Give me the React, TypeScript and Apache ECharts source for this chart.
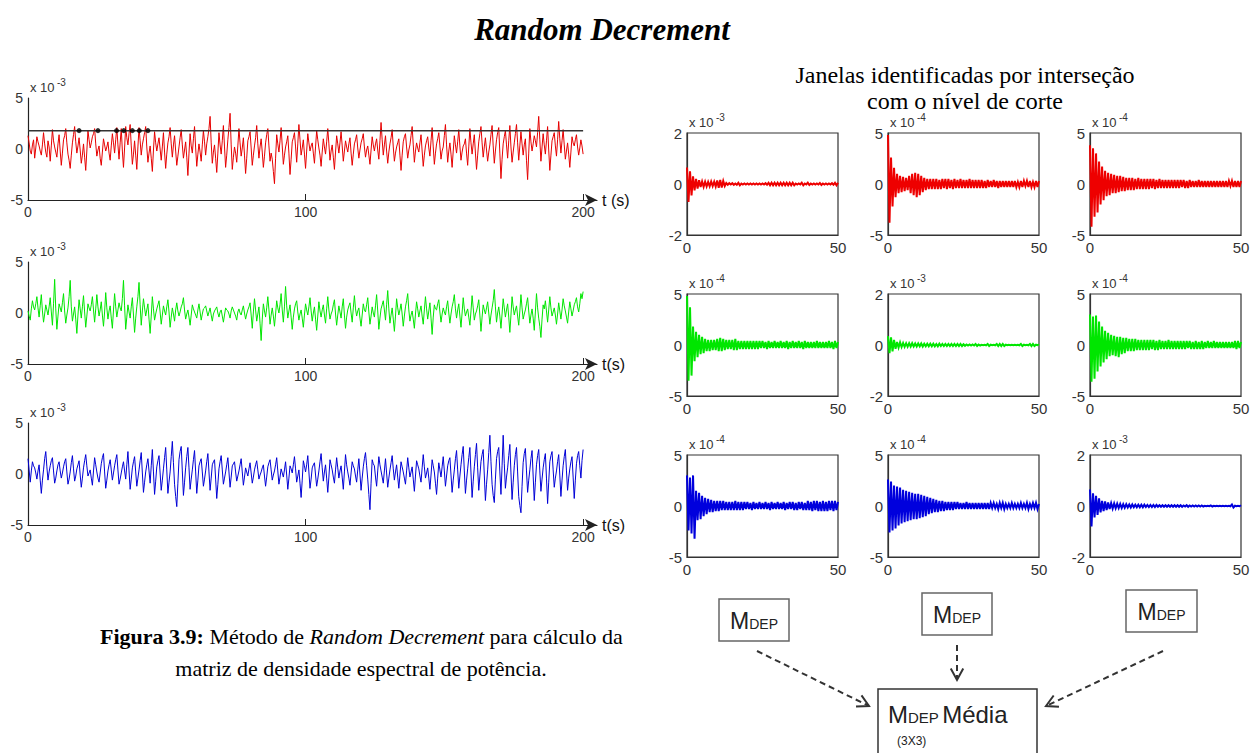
import React, { useEffect, useRef } from "react";
import * as echarts from "echarts";

// ---------- DATA (left signals in units of 10^-3, sampled every LEFT_STEP s) ----------
const LEFT_STEP = 0.4;
const RED = [
  1.3, 0.6, -0.2, -0.5, 0.4, 0.9, -0.9, 0.1, 1.2, 0.7, 0.3, -0.2, -0.6, 0.4, 1.6, 0.5, -0.3, -0.8, 0.8, 0.2,
  -1.2, 0.3, 1.9, 0.8, 0.2, -0.3, -0.8, 0.5, 1.4, -0.2, -1.6, -0.4, 0.9, 1.3, 2.0, 0.6, -0.5, -1.1, -1.9, -0.6,
  0.6, 1.4, 2.2, 0.7, -0.4, 0.3, 1.1, -0.1, -1.4, -0.6, 0.5, -0.8, -2.1, -0.2, 1.8, 0.9, 0.1, 0.6, 1.2, 1.5,
  2.0, 0.5, -0.7, -0.1, 0.3, -0.9, -1.6, -0.3, 1.0, 0.4, -0.2, 0.2, 0.7, -0.4, -1.1, 0.3, 1.5, 0.6, -0.4, 0.9,
  2.1, 0.4, -1.0, 0.6, 2.0, -0.2, -1.8, 0.1, 2.2, 1.1, 0.4, 1.5, 2.4, 0.3, -1.5, -0.5, 0.8, -0.6, -2.0, 0.2,
  2.1, 0.8, -0.6, 0.4, 1.0, 1.6, 2.2, 0.2, -1.3, -0.4, 0.3, -0.9, -2.2, -0.1, 1.7, 0.6, -0.2, 0.5, 1.1, 0.0,
  -1.1, 0.2, 1.6, -0.3, -1.9, -0.5, 0.6, 1.2, 2.1, 0.5, -0.8, 0.4, 1.3, -0.2, -1.6, -0.7, 0.2, 1.1, 1.9, 0.4,
  -0.9, -0.1, 0.7, -0.8, -2.6, -0.4, 1.5, 0.3, -0.4, 1.0, 2.2, 0.1, -1.7, -0.5, 0.5, -0.3, -1.2, 0.4, 1.8, 0.7,
  -0.6, 0.5, 1.2, 2.0, 3.2, 0.6, -1.4, -0.3, 0.4, -0.9, -2.3, -0.4, 1.6, 0.4, -0.5, 0.8, 2.3, 0.2, -1.8, -0.6,
  0.9, 2.1, 3.5, 0.4, -2.0, -0.8, 0.2, -0.4, -1.3, 0.3, 2.0, 0.6, -0.7, 0.1, 1.1, -0.6, -2.4, -0.9, 0.8, 1.2,
  1.7, 0.1, -1.6, -0.6, 0.3, 1.1, 2.3, 0.5, -0.9, 0.2, 1.0, -0.3, -1.8, -0.7, 0.6, 1.4, 2.0, 0.3, -1.2, -0.4,
  -1.0, -2.2, -3.4, -0.9, 1.4, 0.5, -0.3, 0.8, 2.1, 0.3, -1.5, -0.6, 0.2, 0.7, 1.3, -0.4, -2.5, -1.0, 0.7, 1.1,
  1.6, 0.2, -1.3, 0.5, 2.4, 0.9, -0.6, 0.1, 0.9, -0.5, -1.9, -0.2, 1.5, 0.6, -0.2, 0.3, 0.6, -0.4, -1.4, 0.2,
  1.8, 0.9, 0.1, -0.6, -1.7, -0.3, 1.0, 0.2, -0.5, 0.7, 2.0, 0.5, -1.1, -0.2, 0.4, -0.8, -2.0, -0.3, 1.3, 0.5,
  -0.4, 0.6, 1.7, 0.3, -1.2, -0.2, 0.8, 0.2, -0.3, 0.5, 1.1, -0.4, -1.6, -0.5, 0.5, 0.9, 1.4, 0.1, -0.9, -0.1,
  0.6, 1.0, 1.5, 0.2, -0.8, -0.1, 0.3, -0.6, -1.5, -0.1, 1.2, 0.4, -0.2, 0.5, 1.0, -0.1, -1.0, 0.8, 2.6, 0.9,
  -0.6, 0.4, 1.3, -0.2, -1.4, -0.3, 0.5, 1.1, 1.9, 0.2, -1.2, -0.4, 0.2, 0.6, 1.0, -0.6, -2.1, -0.6, 0.7, 1.2,
  1.5, 0.2, -0.9, -0.1, 0.4, 1.3, 2.2, 0.4, -1.3, -0.2, 0.6, 0.1, -0.3, 0.6, 1.4, -0.2, -1.7, -0.6, 0.3, 0.8,
  1.2, 0.1, -0.7, 0.8, 2.1, 0.2, -1.5, -0.4, 0.5, 1.0, 1.6, 0.3, -1.0, -0.2, 0.2, 1.3, 2.4, 0.4, -1.3, -0.2,
  0.6, -0.5, -1.8, -0.2, 1.3, 0.4, -0.4, 0.7, 1.9, 0.3, -1.1, -0.3, 0.3, 0.5, 1.0, -0.4, -1.6, 0.2, 2.0, 0.6,
  -0.5, 0.5, 1.4, -0.4, -2.0, -0.6, 0.7, 1.5, 2.2, 0.6, -0.8, 0.2, 1.1, -0.1, -1.2, -0.3, 0.4, 1.4, 2.3, 0.3,
  -1.4, -0.2, 0.9, 1.6, 2.1, -0.4, -2.9, -1.0, 0.5, 1.2, 1.8, 0.4, -0.9, 0.8, 2.3, 0.2, -1.3, -0.3, 0.6, 1.5,
  2.4, 0.6, -1.1, 0.3, 1.7, 0.5, -0.6, 0.4, 1.0, -1.1, -3.0, -0.4, 2.0, 0.7, -0.2, 0.5, 1.3, 0.8, 0.2, 1.6,
  3.2, 0.9, -1.2, 0.2, 1.5, 0.4, -0.5, 0.8, 2.2, -0.1, -2.1, -0.6, 0.8, 1.2, 1.6, 0.3, -0.7, 0.9, 2.7, 1.0,
  -0.4, 0.8, 1.9, 0.4, -1.0, -0.2, 0.6, -0.5, -1.8, -0.3, 1.2, 0.6, 0.3, 0.9, 1.4, 0.2, -0.6, 0.1, 0.9, 0.3,
  -0.5,
];
const GREEN = [
  0.2, -0.3, -0.7, 0.4, 1.2, 0.6, 0.3, 0.9, 1.6, 0.5, -0.4, 0.7, 1.8, 0.2, -0.9, -0.1, 0.8, 0.3, -0.2, 0.6,
  1.5, 0.1, -1.2, 0.9, 3.3, 0.4, -1.6, -0.3, 0.9, 0.5, 0.1, 1.0, 1.9, 0.2, -1.0, -0.2, 0.5, 1.6, 3.2, 0.6,
  -0.8, -0.1, 0.6, -0.6, -2.0, -0.2, 1.3, 0.4, -0.5, 0.6, 1.7, 0.1, -1.4, -0.3, 0.9, 0.5, 0.2, 0.8, 1.6, 0.3,
  -0.9, 0.4, 1.8, 0.6, -0.3, 0.3, 1.1, -0.2, -1.3, 0.1, 2.0, 0.5, -0.6, 0.2, 0.7, -0.5, -1.5, 0.3, 1.9, 0.6,
  -0.4, 0.3, 1.0, 0.5, 0.2, 1.4, 3.2, 0.7, -1.6, -0.4, 0.8, 0.1, -0.5, 0.6, 1.5, -0.2, -1.9, -0.5, 0.6, 1.6,
  3.0, 0.8, -1.2, 0.2, 1.4, 0.5, -0.3, 0.3, 0.9, -0.6, -2.0, -0.3, 1.6, 0.4, -0.7, -0.1, 0.4, 0.8, 1.2, 0.1,
  -1.1, -0.2, 0.7, 0.2, -0.2, 0.6, 1.3, 0.1, -1.4, -0.4, 0.5, -0.1, -0.8, 0.3, 1.0, 0.2, -0.3, 0.1, 0.6, 0.9,
  1.5, 0.3, -0.6, -0.1, 0.3, -0.4, -1.2, -0.2, 0.8, 0.4, 0.1, -0.2, -0.5, 0.3, 0.9, 0.1, -0.7, -0.1, 0.4, 0.5,
  0.7, 0.2, -0.3, 0.1, 0.5, -0.2, -0.8, -0.1, 0.2, 0.4, 0.6, 0.0, -0.4, 0.1, 0.3, -0.3, -0.9, -0.2, 0.5, 0.3,
  0.2, -0.1, -0.5, 0.2, 0.6, 0.3, 0.0, -0.3, -0.7, 0.1, 0.4, 0.0, -0.2, 0.3, 0.7, 0.0, -0.6, -0.1, 0.3, 0.6,
  1.0, -0.2, -1.5, 0.1, 1.4, 0.3, -0.8, -0.1, 0.6, -1.0, -2.7, -0.6, 0.9, 0.2, -0.4, 0.5, 1.6, 0.3, -1.1, -0.2,
  0.5, -0.3, -1.3, -0.1, 1.2, 0.5, 0.0, 0.8, 1.9, 0.3, -0.9, 0.6, 2.6, 0.7, -0.5, 0.2, 0.8, -0.4, -1.6, -0.4,
  0.4, 0.9, 1.2, 0.1, -0.7, -0.1, 0.3, -0.5, -1.4, -0.2, 0.9, 0.3, -0.2, 0.6, 1.5, 0.2, -0.8, 0.0, 0.6, -0.6,
  -1.7, -0.3, 1.1, 0.2, -0.4, 0.3, 0.8, -0.2, -1.0, 0.4, 1.6, 0.3, -0.6, -0.1, 0.2, 0.8, 1.3, -0.1, -1.2, -0.2,
  0.7, 0.1, -0.5, 0.6, 1.4, -0.2, -1.5, -0.4, 0.3, 0.7, 1.0, 0.0, -0.9, 0.5, 1.7, 0.4, -0.3, 0.2, 0.5, -0.5,
  -1.3, -0.2, 0.9, 0.3, 0.1, 0.8, 1.5, 0.1, -1.1, -0.3, 0.6, 0.0, -0.4, 0.7, 1.8, 0.2, -1.6, -0.5, 0.4, 0.8,
  1.2, 0.3, -0.7, 0.8, 2.2, 0.4, -1.0, -0.2, 0.5, -0.6, -1.8, -0.3, 1.4, 0.5, -0.2, 0.3, 0.9, -0.1, -1.3, -0.3,
  0.6, 1.2, 1.9, 0.3, -0.8, -0.2, 0.2, -0.6, -1.5, -0.1, 1.1, 0.4, -0.4, 0.2, 0.7, -0.3, -1.1, 0.3, 1.6, 0.4,
  -0.6, 0.2, 1.0, -0.5, -2.1, -0.4, 0.8, 0.4, 0.3, 0.9, 1.3, 0.1, -0.9, -0.1, 0.5, 0.1, -0.2, 0.6, 1.2, 0.0,
  -1.0, -0.1, 0.6, 1.1, 1.8, 0.4, -0.5, 0.3, 0.9, -0.3, -1.4, 0.0, 1.5, 0.4, -0.3, 0.1, 0.4, -0.4, -1.2, 0.2,
  1.7, 0.5, -0.7, -0.1, 0.2, 0.7, 1.3, -0.2, -1.8, -0.4, 0.8, 0.3, -0.1, 0.5, 1.1, 0.0, -1.1, -0.2, 0.5, 1.2,
  2.3, 0.6, -0.9, 0.0, 0.6, -0.3, -1.5, -0.1, 1.4, 0.5, -0.4, 0.3, 0.9, -0.4, -1.9, -0.2, 1.6, 0.6, -0.2, 0.3,
  0.7, -0.3, -1.2, 0.2, 1.8, 0.5, -0.6, -0.1, 0.3, 0.9, 1.5, 0.2, -1.0, -0.2, 0.4, -0.5, -1.7, 0.1, 1.9, 0.5,
  -0.5, -1.3, -2.4, -0.6, 0.8, 0.4, 1.2, 0.2, -0.9, 0.3, 1.6, 0.5, -0.3, 0.1, 0.5, -0.2, -1.1, -0.1, 1.0, 0.2,
  -0.6, 0.3, 1.4, 0.7, 0.2, -0.4, -1.0, 0.1, 1.1, 0.4, -0.3, 0.2, 0.8, 1.1, 1.5, 0.6, 0.1, 0.9, 1.9, 1.4,
  2.1,
];
const BLUE = [
  1.5, 0.4, -0.8, 0.3, 1.2, 0.8, 0.6, 0.1, -0.5, 0.3, 0.9, -0.6, -1.9, -0.6, 0.4, 1.5, 2.2, 0.7, -0.6, 0.2,
  0.8, 1.3, 1.6, 0.3, -0.9, -0.4, 0.3, 0.9, 1.2, 0.3, -0.4, 0.1, 0.7, 1.2, 1.5, 0.2, -1.0, -0.5, 0.2, 1.1,
  1.8, 0.5, -0.7, -0.2, 0.5, 0.9, 1.3, -0.1, -1.3, -0.4, 0.6, 1.3, 1.9, 0.8, -0.2, 0.1, 0.4, -0.4, -1.1, 0.3,
  1.6, 0.9, 0.2, -0.4, -0.8, 0.1, 1.0, 1.6, 2.0, 0.2, -1.4, -0.6, 0.3, 0.9, 1.4, 0.4, -0.6, 0.1, 0.8, 1.4,
  1.9, 0.4, -1.0, -0.5, 0.1, 0.7, 1.2, 0.3, -0.5, 0.9, 2.2, 0.3, -1.5, -0.5, 0.6, 1.2, 1.7, 0.2, -1.2, -0.4,
  0.4, 1.3, 2.1, 0.1, -1.8, -0.8, 0.2, 0.9, 1.5, 0.3, -0.9, 0.8, 2.4, 0.2, -2.0, -0.7, 0.7, 1.3, 1.8, 0.1,
  -1.6, -0.6, 0.5, 1.6, 2.6, 0.4, -1.9, -0.8, 0.2, 1.7, 3.2, 1.1, -1.0, -2.2, -3.2, -0.9, 1.4, 2.2, 2.7, 0.3,
  -2.1, -0.8, 0.6, 1.7, 2.6, 0.6, -1.5, -0.5, 0.4, 1.4, 2.3, 0.2, -1.9, -0.6, 0.8, 1.2, 1.5, 0.2, -1.2, -0.5,
  0.3, 1.2, 2.0, 0.2, -1.6, -0.4, 0.9, 1.2, 1.4, -0.5, -2.4, -1.0, 0.5, 1.2, 1.8, 0.4, -1.0, -0.4, 0.2, 0.9,
  1.6, 0.2, -1.3, -0.3, 0.8, 1.0, 1.2, 0.2, -0.7, -0.2, 0.3, 0.9, 1.5, 0.2, -1.1, -0.3, 0.6, 0.2, -0.2, 0.5,
  1.1, 0.1, -0.9, -0.3, 0.4, 0.9, 1.3, 0.4, -0.5, -0.1, 0.2, 0.6, 0.9, -0.2, -1.2, -0.3, 0.7, 1.1, 1.4, 0.4,
  -0.6, -0.1, 0.3, 0.9, 1.6, 0.3, -1.0, -0.3, 0.5, 0.1, -0.3, 0.4, 1.2, -0.1, -1.5, -0.4, 0.8, 0.5, 0.1, 0.9,
  1.7, 0.5, -0.8, -0.2, 0.4, -0.9, -2.3, -0.6, 1.3, 0.8, 0.2, 0.9, 1.8, 0.2, -1.4, -0.5, 0.6, 0.9, 1.1, -0.1,
  -1.2, -0.5, 0.3, 1.2, 2.0, 0.6, -0.7, 0.2, 0.9, -0.4, -1.8, -0.3, 1.4, 0.9, 0.4, -0.3, -0.9, 0.4, 1.6, 0.6,
  -0.4, 0.3, 0.8, -0.3, -1.5, 0.2, 1.9, 0.9, 0.2, -0.4, -1.1, 0.1, 1.2, 0.8, 0.5, -0.2, -0.8, 0.4, 1.5, 0.0,
  -1.6, -0.4, 0.7, 1.5, 2.1, 0.8, -0.5, -2.0, -3.5, -0.9, 1.4, 1.0, 0.8, -0.3, -1.2, 0.3, 1.7, 0.9, 0.3, -0.3,
  -0.9, 0.3, 1.5, 0.1, -1.3, -0.4, 0.4, 1.1, 1.8, 0.5, -0.6, 0.2, 0.9, -0.3, -1.4, -0.1, 1.2, 0.7, 0.2, -0.4,
  -1.0, 0.3, 1.6, 0.6, -0.3, 0.2, 0.7, -0.5, -1.7, -0.2, 1.3, 0.9, 0.5, -0.2, -0.8, 0.6, 1.9, 0.7, -0.4, 0.1,
  0.6, -0.4, -1.5, -0.1, 1.4, 0.8, 0.2, -0.9, -2.0, -0.4, 1.1, 0.4, -0.3, 0.7, 1.7, 0.3, -1.2, -0.2, 0.8, 1.3,
  1.6, -0.1, -1.8, -0.6, 0.4, 1.5, 2.3, 0.4, -1.4, -0.2, 0.9, 1.9, 2.7, 0.3, -1.9, -0.6, 0.5, 1.6, 2.6, 0.1,
  -2.3, -0.7, 0.7, 1.9, 3.0, 0.6, -1.6, -0.2, 1.2, 1.9, 2.4, -0.1, -2.6, -1.0, 0.4, 2.1, 3.8, 1.2, -1.0, -2.1,
  -2.8, -0.5, 1.5, 2.2, 2.6, 0.2, -2.0, 0.8, 3.8, 1.0, -1.4, -0.3, 0.6, 1.8, 2.9, 0.1, -2.5, -0.8, 0.8, 1.9,
  2.6, 0.2, -2.2, -3.1, -3.8, -1.2, 1.1, 2.0, 2.5, 0.3, -1.8, -0.6, 0.4, 1.5, 2.3, -0.2, -2.6, -0.8, 0.9, 1.8,
  2.4, 0.3, -1.7, -0.5, 0.6, 1.4, 2.0, -0.4, -2.9, -0.8, 1.2, 1.8, 2.2, 0.4, -1.3, -0.4, 0.3, 1.2, 1.9, -0.1,
  -2.2, -0.6, 0.8, 1.7, 2.4, 0.3, -1.6, -0.4, 0.5, 1.2, 1.7, -0.3, -2.4, -0.6, 1.0, 1.8, 2.2, 0.8, -0.4, 1.3,
  2.4,
];
const THRESHOLD = 1.8; // cut level (x10^-3)
const CROSSINGS = [18.4, 25.2, 31.9, 34.5, 37.6, 40.1, 43.2]; // s
const LEFT_X_TICKS = [0, 100, 200];
const LEFT_Y_LIMIT = 5;

// Right panels: 0..50 s every PANEL_STEP s; values in units of each panel's exponent
const PANEL_STEP = 0.5;
const PANEL_X_TICKS = [0, 50];
const R1 = [
  0.65, -0.7, 0.5, -0.45, 0.3, -0.25, 0.2, -0.18, 0.15, -0.12,
  0.1, -0.11, 0.09, -0.1, 0.08, -0.09, 0.1, -0.08, 0.09, -0.1,
  0.14, -0.15, 0.16, -0.14, 0.12, -0.08, 0.04, -0.03, 0.03, -0.02,
  0.03, -0.03, 0.02, -0.03, 0.05, -0.05, 0.02, -0.02, 0.02, -0.02,
  0.02, -0.02, 0.02, -0.02, 0.02, -0.02, 0.02, -0.02, 0.02, -0.02,
  0.02, -0.02, 0.03, -0.03, 0.05, -0.05, 0.05, -0.05, 0.05, -0.05,
  0.05, -0.05, 0.05, -0.05, 0.05, -0.05, 0.05, -0.05, 0.05, -0.05,
  0.05, -0.05, 0.02, -0.02, 0.02, -0.02, 0.05, -0.05, 0.02, -0.02,
  0.05, -0.04, 0.02, -0.02, 0.02, -0.02, 0.02, -0.02, 0.04, -0.04,
  0.02, -0.02, 0.02, -0.02, 0.02, -0.02, 0.03, -0.03, 0.05, -0.05,
  0.05,
];
const R2 = [
  4.8, -3.8, 2.6, -2.2, 1.6, -1.3, 1.0, -0.9, 0.8, -0.8,
  0.7, -0.7, 0.6, -0.6, 0.8, -0.9, 1.0, -1.1, 1.1, -1.3,
  1.0, -1.1, 0.8, -0.8, 0.6, -0.6, 0.5, -0.5, 0.5, -0.5,
  0.5, -0.5, 0.5, -0.5, 0.4, -0.5, 0.5, -0.4, 0.5, -0.5,
  0.5, -0.4, 0.4, -0.5, 0.5, -0.4, 0.4, -0.4, 0.5, -0.4,
  0.4, -0.4, 0.4, -0.4, 0.5, -0.4, 0.4, -0.4, 0.4, -0.4,
  0.4, -0.4, 0.4, -0.4, 0.3, -0.4, 0.4, -0.3, 0.3, -0.3,
  0.4, -0.3, 0.3, -0.4, 0.3, -0.3, 0.3, -0.3, 0.3, -0.3,
  0.3, -0.3, 0.3, -0.3, 0.3, -0.3, 0.2, -0.3, 0.3, -0.3,
  0.3, -0.2, 0.3, -0.3, 0.3, -0.3, 0.2, -0.3, 0.3, -0.3,
  0.3,
];
const R3 = [
  3.8, -4.2, 3.5, -3.2, 3.0, -2.8, 2.2, -2.0, 1.7, -1.6,
  1.3, -1.2, 1.1, -1.1, 1.0, -0.9, 0.9, -0.9, 0.8, -0.8,
  0.8, -0.7, 0.7, -0.7, 0.6, -0.6, 0.6, -0.6, 0.6, -0.6,
  0.5, -0.5, 0.6, -0.5, 0.5, -0.5, 0.5, -0.5, 0.5, -0.5,
  0.5, -0.4, 0.5, -0.5, 0.4, -0.4, 0.5, -0.4, 0.4, -0.4,
  0.4, -0.4, 0.4, -0.4, 0.4, -0.4, 0.4, -0.4, 0.4, -0.4,
  0.4, -0.3, 0.4, -0.4, 0.3, -0.4, 0.4, -0.3, 0.3, -0.3,
  0.3, -0.3, 0.4, -0.3, 0.3, -0.3, 0.3, -0.3, 0.3, -0.3,
  0.3, -0.3, 0.3, -0.3, 0.3, -0.3, 0.3, -0.3, 0.3, -0.3,
  0.3, -0.3, 0.3, -0.2, 0.3, -0.3, 0.3, -0.3, 0.3, -0.3,
  0.3,
];
const G1 = [
  4.8, -3.5, 3.7, -3.0, 1.8, -1.6, 1.3, -1.2, 1.0, -0.9,
  0.8, -0.8, 0.6, -0.6, 0.5, -0.6, 0.5, -0.5, 0.5, -0.5,
  0.6, -0.6, 0.7, -0.6, 0.6, -0.5, 0.5, -0.4, 0.5, -0.4,
  0.5, -0.5, 0.6, -0.5, 0.4, -0.4, 0.4, -0.4, 0.4, -0.4,
  0.4, -0.4, 0.4, -0.4, 0.4, -0.4, 0.4, -0.4, 0.4, -0.3,
  0.4, -0.3, 0.3, -0.4, 0.4, -0.3, 0.3, -0.3, 0.4, -0.3,
  0.3, -0.3, 0.4, -0.3, 0.3, -0.3, 0.4, -0.4, 0.3, -0.3,
  0.4, -0.3, 0.3, -0.3, 0.4, -0.3, 0.3, -0.4, 0.4, -0.3,
  0.3, -0.3, 0.3, -0.3, 0.3, -0.3, 0.4, -0.3, 0.3, -0.3,
  0.3, -0.3, 0.3, -0.3, 0.4, -0.3, 0.3, -0.4, 0.4, -0.3,
  0.3,
];
const G2 = [
  0.35, -0.32, 0.3, -0.25, 0.2, -0.15, 0.12, -0.1, 0.1, -0.08,
  0.08, -0.07, 0.07, -0.07, 0.07, -0.06, 0.07, -0.06, 0.06, -0.06,
  0.06, -0.05, 0.06, -0.06, 0.05, -0.05, 0.05, -0.05, 0.05, -0.05,
  0.05, -0.05, 0.04, -0.05, 0.05, -0.04, 0.04, -0.04, 0.04, -0.04,
  0.04, -0.04, 0.04, -0.04, 0.04, -0.04, 0.04, -0.04, 0.04, -0.04,
  0.03, -0.03, 0.02, -0.02, 0.02, -0.02, 0.02, -0.02, 0.04, -0.04,
  0.02, -0.02, 0.01, -0.01, 0.01, -0.01, 0.04, -0.04, 0.01, -0.01,
  0.01, -0.01, 0.04, -0.04, 0.04, -0.04, 0.04, -0.04, 0.01, -0.01,
  0.01, -0.01, 0.01, -0.01, 0.01, -0.01, 0.01, -0.01, 0.04, -0.04,
  0.01, -0.01, 0.01, -0.01, 0.04, -0.04, 0.04, -0.04, 0.01, -0.01,
  0.03,
];
const G3 = [
  3.0, -3.6, 2.8, -3.3, 2.9, -2.6, 2.3, -2.1, 1.8, -1.7,
  1.4, -1.4, 1.2, -1.1, 1.0, -1.0, 0.9, -1.1, 0.8, -1.2,
  0.8, -0.9, 0.7, -0.8, 0.7, -0.6, 0.6, -0.6, 0.6, -0.6,
  0.6, -0.5, 0.5, -0.5, 0.5, -0.5, 0.5, -0.5, 0.5, -0.5,
  0.5, -0.4, 0.5, -0.5, 0.4, -0.5, 0.5, -0.4, 0.4, -0.4,
  0.4, -0.4, 0.5, -0.4, 0.4, -0.4, 0.4, -0.4, 0.4, -0.4,
  0.4, -0.4, 0.4, -0.4, 0.4, -0.3, 0.4, -0.4, 0.3, -0.4,
  0.4, -0.4, 0.3, -0.4, 0.4, -0.4, 0.3, -0.3, 0.4, -0.3,
  0.3, -0.3, 0.4, -0.3, 0.3, -0.3, 0.3, -0.3, 0.3, -0.3,
  0.3, -0.3, 0.3, -0.3, 0.3, -0.3, 0.4, -0.4, 0.4, -0.3,
  0.3,
];
const B1 = [
  3.0, -2.4, 2.8, -2.7, 3.0, -3.2, 1.5, -1.4, 1.3, -1.3,
  1.0, -1.0, 0.8, -0.8, 0.7, -0.6, 0.6, -0.6, 0.5, -0.5,
  0.5, -0.5, 0.5, -0.4, 0.5, -0.4, 0.4, -0.4, 0.4, -0.4,
  0.4, -0.4, 0.5, -0.4, 0.4, -0.4, 0.4, -0.4, 0.4, -0.3,
  0.4, -0.3, 0.3, -0.4, 0.4, -0.3, 0.3, -0.3, 0.4, -0.3,
  0.3, -0.3, 0.4, -0.3, 0.3, -0.4, 0.4, -0.3, 0.3, -0.3,
  0.4, -0.3, 0.3, -0.3, 0.4, -0.4, 0.3, -0.3, 0.4, -0.3,
  0.4, -0.4, 0.3, -0.4, 0.4, -0.3, 0.4, -0.4, 0.3, -0.4,
  0.5, -0.4, 0.4, -0.5, 0.5, -0.4, 0.5, -0.5, 0.4, -0.5,
  0.5, -0.5, 0.4, -0.5, 0.5, -0.4, 0.5, -0.5, 0.5, -0.4,
  0.4,
];
const B2 = [
  2.6, -2.6, 2.4, -2.4, 2.0, -2.2, 1.9, -1.9, 1.8, -1.7,
  1.6, -1.6, 1.5, -1.5, 1.4, -1.4, 1.3, -1.3, 1.2, -1.3,
  1.2, -1.2, 1.1, -1.1, 1.0, -1.0, 0.9, -0.8, 0.8, -0.7,
  0.7, -0.6, 0.6, -0.6, 0.5, -0.5, 0.5, -0.5, 0.4, -0.4,
  0.4, -0.4, 0.4, -0.4, 0.4, -0.3, 0.4, -0.3, 0.3, -0.3,
  0.3, -0.3, 0.4, -0.3, 0.3, -0.3, 0.3, -0.3, 0.3, -0.3,
  0.3, -0.3, 0.3, -0.3, 0.3, -0.3, 0.3, -0.3, 0.3, -0.2,
  0.3, -0.2, 0.2, -0.3, 0.3, -0.2, 0.3, -0.3, 0.2, -0.2,
  0.2, -0.2, 0.3, -0.2, 0.2, -0.2, 0.2, -0.2, 0.3, -0.2,
  0.2, -0.2, 0.3, -0.3, 0.2, -0.2, 0.3, -0.2, 0.3, -0.3,
  0.2,
];
const B3 = [
  0.65, -0.8, 0.5, -0.45, 0.4, -0.35, 0.3, -0.25, 0.2, -0.2,
  0.18, -0.16, 0.14, -0.12, 0.11, -0.1, 0.1, -0.09, 0.09, -0.08,
  0.08, -0.08, 0.07, -0.07, 0.07, -0.06, 0.06, -0.06, 0.06, -0.05,
  0.05, -0.05, 0.05, -0.05, 0.05, -0.05, 0.05, -0.04, 0.04, -0.04,
  0.04, -0.04, 0.04, -0.04, 0.04, -0.03, 0.03, -0.03, 0.03, -0.03,
  0.03, -0.03, 0.03, -0.03, 0.03, -0.03, 0.03, -0.03, 0.03, -0.03,
  0.03, -0.03, 0.02, -0.02, 0.03, -0.03, 0.02, -0.02, 0.02, -0.02,
  0.02, -0.02, 0.02, -0.02, 0.02, -0.02, 0.01, -0.01, 0.01, -0.01,
  0.02, -0.02, 0.01, -0.01, 0.01, -0.01, 0.01, -0.01, 0.01, -0.01,
  0.01, -0.01, 0.01, -0.01, 0.06, -0.06, 0.01, -0.01, 0.01, -0.01,
  0.03,
];
const PANELS = [R1, R2, R3, G1, G2, G3, B1, B2, B3];
const PANEL_LIMITS = [2, 5, 5, 5, 2, 5, 5, 5, 2];
const PANEL_EXPONENTS = ["-3", "-4", "-4", "-4", "-3", "-4", "-4", "-4", "-3"];
const PANEL_COLORS = ["#ee0000", "#ee0000", "#ee0000", "#00e600", "#00e600", "#00e600", "#0000dd", "#0000dd", "#0000dd"];
const LEFT_SERIES = [RED, GREEN, BLUE];
const LEFT_COLORS = ["#e60000", "#00e600", "#0000d6"];
const LEFT_NAMES = ["t (s)", "t(s)", "t(s)"];

// ---------- LAYOUT ----------
const LEFT_X = 28;
const LEFT_W = 569; // 0..205 s
const LEFT_TOPS = [98, 262, 423];
const LEFT_H = 102;
const PANEL_COLS = [687, 888, 1090];
const PANEL_ROWS = [133, 294, 455];
const PANEL_W = 151;
const PANEL_H = 102;

const SANS = '"Liberation Sans", Arial, sans-serif';
const SERIF = '"Liberation Serif", "Times New Roman", serif';

function expLabel(x: number, top: number, exp: string) {
  return [
    {
      type: "text",
      x: x,
      y: top - 4,
      style: { text: "x 10", font: `13px ${SANS}`, fill: "#333", align: "left", textAlign: "left", verticalAlign: "bottom", textVerticalAlign: "bottom" },
    },
    {
      type: "text",
      x: x + 27,
      y: top - 11,
      style: { text: exp, font: `10px ${SANS}`, fill: "#333", align: "left", textAlign: "left", verticalAlign: "bottom", textVerticalAlign: "bottom" },
    },
  ];
}

function arrow(x1: number, y1: number, x2: number, y2: number) {
  const a = Math.atan2(y2 - y1, x2 - x1);
  const L = 13;
  const w = 0.5;
  return [
    { type: "line", shape: { x1, y1, x2, y2 }, style: { stroke: "#333", lineWidth: 2, lineDash: [6, 4] } },
    {
      type: "polyline",
      shape: {
        points: [
          [x2 - L * Math.cos(a - w), y2 - L * Math.sin(a - w)],
          [x2, y2],
          [x2 - L * Math.cos(a + w), y2 - L * Math.sin(a + w)],
        ],
      },
      style: { stroke: "#333", lineWidth: 2, fill: "none" },
    },
  ];
}

function mdepBox(x: number, y: number, w: number, h: number) {
  return [
    { type: "rect", shape: { x, y, width: w, height: h }, style: { fill: "#fff", stroke: "#666", lineWidth: 1.5 } },
    {
      type: "text",
      x: x + w / 2,
      y: y + h / 2 + 1,
      style: {
        text: "{m|M}{d|DEP}",
        align: "center",
        textAlign: "center",
        verticalAlign: "middle",
        textVerticalAlign: "middle",
        fill: "#222",
        rich: {
          m: { fontSize: 23, fontFamily: SANS, fill: "#222", color: "#222" },
          d: { fontSize: 14, fontFamily: SANS, fill: "#222", color: "#222", padding: [6, 0, 0, 0] },
        },
      },
    },
  ];
}

export default function App() {
  const ref = useRef<HTMLDivElement>(null);
  useEffect(() => {
    if (!ref.current) return;
    const chart = echarts.init(ref.current, null, { renderer: "svg" });

    const grid: any[] = [];
    const xAxis: any[] = [];
    const yAxis: any[] = [];
    const series: any[] = [];
    const graphic: any[] = [];

    LEFT_TOPS.forEach((top, i) => {
      grid.push({ left: LEFT_X, top, width: LEFT_W, height: LEFT_H });
      xAxis.push({
        gridIndex: i,
        type: "value",
        min: 0,
        max: 205,
        axisLine: { show: true, onZero: false, lineStyle: { color: "#222", width: 1.2 }, symbol: ["none", "arrow"], symbolSize: [9, 12] },
        axisTick: { show: true, inside: true, length: 6, customValues: [100, 200], lineStyle: { color: "#222" } },
        axisLabel: { customValues: LEFT_X_TICKS, fontSize: 14, color: "#333", margin: 5, fontFamily: SANS },
        splitLine: { show: false },
        name: LEFT_NAMES[i],
        nameLocation: "end",
        nameGap: 5,
        nameTextStyle: { fontSize: 16, color: "#111", fontFamily: SANS },
      });
      yAxis.push({
        gridIndex: i,
        type: "value",
        min: -LEFT_Y_LIMIT,
        max: LEFT_Y_LIMIT,
        interval: LEFT_Y_LIMIT,
        axisLine: { show: true, onZero: false, lineStyle: { color: "#222", width: 1.2 } },
        axisTick: { show: false },
        axisLabel: { fontSize: 14, color: "#333", margin: 5, fontFamily: SANS },
        splitLine: { show: false },
      });
      series.push({
        type: "line",
        xAxisIndex: i,
        yAxisIndex: i,
        data: LEFT_SERIES[i].map((v, k) => [k * LEFT_STEP, v]),
        showSymbol: false,
        silent: true,
        lineStyle: { width: 1, color: LEFT_COLORS[i] },
        z: 2,
      });
      graphic.push(...expLabel(LEFT_X + 2, top, "-3"));
    });

    // threshold line and crossing points on the first signal
    series.push({
      type: "line",
      xAxisIndex: 0,
      yAxisIndex: 0,
      data: [[0, THRESHOLD], [200, THRESHOLD]],
      showSymbol: false,
      silent: true,
      lineStyle: { width: 1.5, color: "#333" },
      z: 3,
    });
    series.push({
      type: "scatter",
      xAxisIndex: 0,
      yAxisIndex: 0,
      data: CROSSINGS.map((t) => [t, THRESHOLD]),
      symbolSize: 5,
      itemStyle: { color: "#000" },
      silent: true,
      z: 4,
    });

    PANELS.forEach((vals, p) => {
      const gi = 3 + p;
      const left = PANEL_COLS[p % 3];
      const top = PANEL_ROWS[Math.floor(p / 3)];
      const lim = PANEL_LIMITS[p];
      grid.push({ left, top, width: PANEL_W, height: PANEL_H, show: true, borderColor: "#333", borderWidth: 1.2, backgroundColor: "transparent" });
      xAxis.push({
        gridIndex: gi,
        type: "value",
        min: 0,
        max: 50,
        interval: 50,
        axisLine: { show: true, onZero: false, lineStyle: { color: "#333", width: 1.2 } },
        axisTick: { show: false },
        axisLabel: { customValues: PANEL_X_TICKS, fontSize: 15, color: "#333", margin: 5, fontFamily: SANS },
        splitLine: { show: false },
      });
      yAxis.push({
        gridIndex: gi,
        type: "value",
        min: -lim,
        max: lim,
        interval: lim,
        axisLine: { show: true, onZero: false, lineStyle: { color: "#333", width: 1.2 } },
        axisTick: { show: false },
        axisLabel: { fontSize: 15, color: "#333", margin: 5, fontFamily: SANS },
        splitLine: { show: false },
      });
      series.push({
        type: "line",
        xAxisIndex: gi,
        yAxisIndex: gi,
        data: vals.map((v, k) => [k * PANEL_STEP, v]),
        showSymbol: false,
        silent: true,
        lineStyle: { width: 2, color: PANEL_COLORS[p], join: "miter" },
        areaStyle: { color: PANEL_COLORS[p], opacity: 1, origin: 0 },
      });
      graphic.push(...expLabel(left + 2, top, PANEL_EXPONENTS[p]));
    });

    // titles and captions
    graphic.push(
      {
        type: "text",
        x: 602,
        y: 29,
        style: { text: "Random Decrement", font: `italic bold 31px ${SERIF}`, fill: "#000", align: "center", textAlign: "center", verticalAlign: "middle", textVerticalAlign: "middle" },
      },
      {
        type: "text",
        x: 965,
        y: 75,
        style: { text: "Janelas identificadas por interseção", font: `24px ${SERIF}`, fill: "#000", align: "center", textAlign: "center", verticalAlign: "middle", textVerticalAlign: "middle" },
      },
      {
        type: "text",
        x: 965,
        y: 101,
        style: { text: "com o nível de corte", font: `24px ${SERIF}`, fill: "#000", align: "center", textAlign: "center", verticalAlign: "middle", textVerticalAlign: "middle" },
      },
      {
        type: "text",
        x: 100,
        y: 636,
        style: {
          text: "{b|Figura 3.9:} Método de {i|Random Decrement} para cálculo da",
          font: `22px ${SERIF}`,
          fill: "#000",
          align: "left",
          textAlign: "left",
          verticalAlign: "middle",
          textVerticalAlign: "middle",
          rich: {
            b: { fontWeight: "bold", fontSize: 22, fontFamily: SERIF, fill: "#000", color: "#000" },
            i: { fontStyle: "italic", fontSize: 22, fontFamily: SERIF, fill: "#000", color: "#000" },
          },
        },
      },
      {
        type: "text",
        x: 361,
        y: 668,
        style: { text: "matriz de densidade espectral de potência.", font: `22px ${SERIF}`, fill: "#000", align: "center", textAlign: "center", verticalAlign: "middle", textVerticalAlign: "middle" },
      }
    );

    // flow diagram
    graphic.push(
      ...mdepBox(719, 599, 70, 42),
      ...mdepBox(922, 593, 70, 42),
      ...mdepBox(1126, 590, 71, 42),
      ...arrow(757, 651, 869, 706),
      ...arrow(957, 645, 957, 680),
      ...arrow(1163, 651, 1046, 706),
      { type: "rect", shape: { x: 878, y: 689, width: 159, height: 70 }, style: { fill: "#fff", stroke: "#333", lineWidth: 1.5 } },
      {
        type: "text",
        x: 888,
        y: 714,
        style: {
          text: "{m|M}{d|DEP} {m|Média}",
          align: "left",
          textAlign: "left",
          verticalAlign: "middle",
          textVerticalAlign: "middle",
          fill: "#222",
          rich: {
            m: { fontSize: 24, fontFamily: SANS, fill: "#222", color: "#222" },
            d: { fontSize: 15, fontFamily: SANS, fill: "#222", color: "#222", padding: [6, 0, 0, 0] },
          },
        },
      },
      {
        type: "text",
        x: 897,
        y: 741,
        style: { text: "(3X3)", font: `12px ${SANS}`, fill: "#222", align: "left", textAlign: "left", verticalAlign: "middle", textVerticalAlign: "middle" },
      }
    );

    chart.setOption({
      animation: false,
      backgroundColor: "#fff",
      textStyle: { fontFamily: SANS },
      grid,
      xAxis,
      yAxis,
      series,
      graphic: { elements: graphic },
    });
    return () => chart.dispose();
  }, []);

  return (
    <div
      ref={ref}
      style={{ position: "absolute", left: 0, top: 0, width: 1258, height: 753, background: "#fff" }}
    />
  );
}
